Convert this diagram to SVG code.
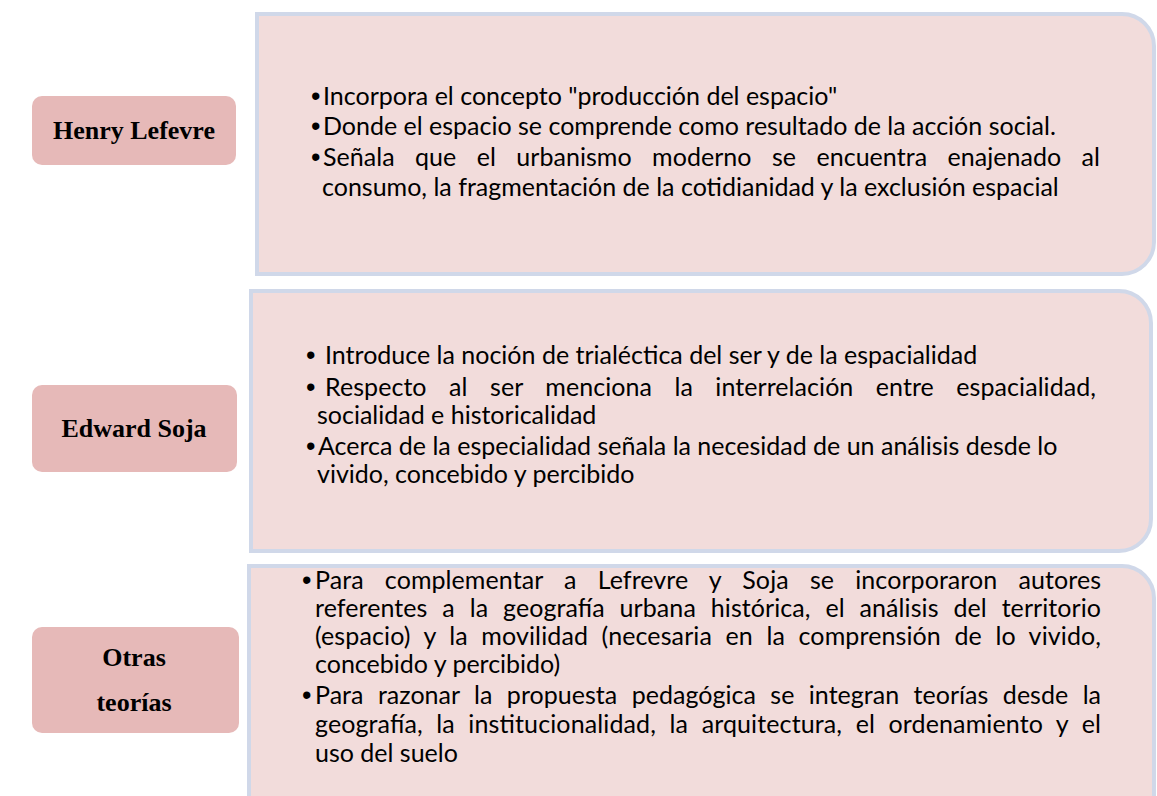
<svg xmlns="http://www.w3.org/2000/svg" width="1157" height="796" viewBox="0 0 1157 796">
<style>
.panel{fill:#f2dcdb;stroke:#d0d8e9;stroke-width:4}
.lab{fill:#e6b9b8}
.lt{font-family:"Liberation Serif",serif;font-weight:bold;font-size:26px;fill:#000;text-anchor:middle}
.bt{font-family:Lato,"Liberation Sans",sans-serif;font-size:25px;fill:#000}
.bu{font-family:"Liberation Sans",sans-serif;font-size:27px;fill:#000}
</style>
<rect width="1157" height="796" fill="#fff"/>
<g id="panel-lefevre">
<path class="panel" d="M257,14 H1122 A32,32 0 0 1 1154,46 V242 A32,32 0 0 1 1122,274 H257 Z"/>
<text class="bu" x="311" y="105">•</text>
<text class="bt" x="323" y="105">Incorpora el concepto "producción del espacio"</text>
<text class="bu" x="311" y="135">•</text>
<text class="bt" x="323" y="135">Donde el espacio se comprende como resultado de la acción social.</text>
<text class="bu" x="311" y="166">•</text>
<text class="bt" x="323" y="166" word-spacing="13.9" textLength="777" lengthAdjust="spacing">Señala que el urbanismo moderno se encuentra enajenado al</text>
<text class="bt" x="322" y="196">consumo, la fragmentación de la cotidianidad y la exclusión espacial</text>
</g>
<g id="label-lefevre">
<rect class="lab" x="32" y="96" width="204" height="69" rx="10"/>
<text class="lt" x="134" y="139">Henry Lefevre</text>
</g>
<g id="panel-soja">
<path class="panel" d="M251,291 H1119 A32,32 0 0 1 1151,323 V519 A32,32 0 0 1 1119,551 H251 Z"/>
<text class="bu" x="306" y="364">•</text>
<text class="bt" x="325" y="364">Introduce la noción de trialéctica del ser y de la espacialidad</text>
<text class="bu" x="306" y="396">•</text>
<text class="bt" x="325" y="396" word-spacing="16" textLength="771" lengthAdjust="spacing">Respecto al ser menciona la interrelación entre espacialidad,</text>
<text class="bt" x="317" y="424">socialidad e historicalidad</text>
<text class="bu" x="306" y="455">•</text>
<text class="bt" x="318" y="455">Acerca de la especialidad señala la necesidad de un análisis desde lo</text>
<text class="bt" x="317" y="483">vivido, concebido y percibido</text>
</g>
<g id="label-soja">
<rect class="lab" x="32" y="385" width="205" height="87" rx="10"/>
<text class="lt" x="134" y="437">Edward Soja</text>
</g>
<g id="panel-otras">
<path class="panel" d="M249,566 H1122 A32,32 0 0 1 1154,598 V830 H249 Z"/>
<text class="bu" x="302" y="589">•</text>
<text class="bt" x="315" y="589" word-spacing="14.7" textLength="786" lengthAdjust="spacing">Para complementar a Lefrevre y Soja se incorporaron autores</text>
<text class="bt" x="315" y="617" word-spacing="8.4" textLength="786" lengthAdjust="spacing">referentes a la geografía urbana histórica, el análisis del territorio</text>
<text class="bt" x="315" y="645" word-spacing="7" textLength="786" lengthAdjust="spacing">(espacio) y la movilidad (necesaria en la comprensión de lo vivido,</text>
<text class="bt" x="315" y="673">concebido y percibido)</text>
<text class="bu" x="302" y="704">•</text>
<text class="bt" x="315" y="704" word-spacing="8" textLength="786" lengthAdjust="spacing">Para razonar la propuesta pedagógica se integran teorías desde la</text>
<text class="bt" x="315" y="733" word-spacing="7" textLength="786" lengthAdjust="spacing">geografía, la institucionalidad, la arquitectura, el ordenamiento y el</text>
<text class="bt" x="315" y="762">uso del suelo</text>
</g>
<g id="label-otras">
<rect class="lab" x="32" y="627" width="207" height="106" rx="10"/>
<text class="lt" x="134" y="666">Otras</text>
<text class="lt" x="134" y="711">teorías</text>
</g>
<g id="connectors"></g>
</svg>
